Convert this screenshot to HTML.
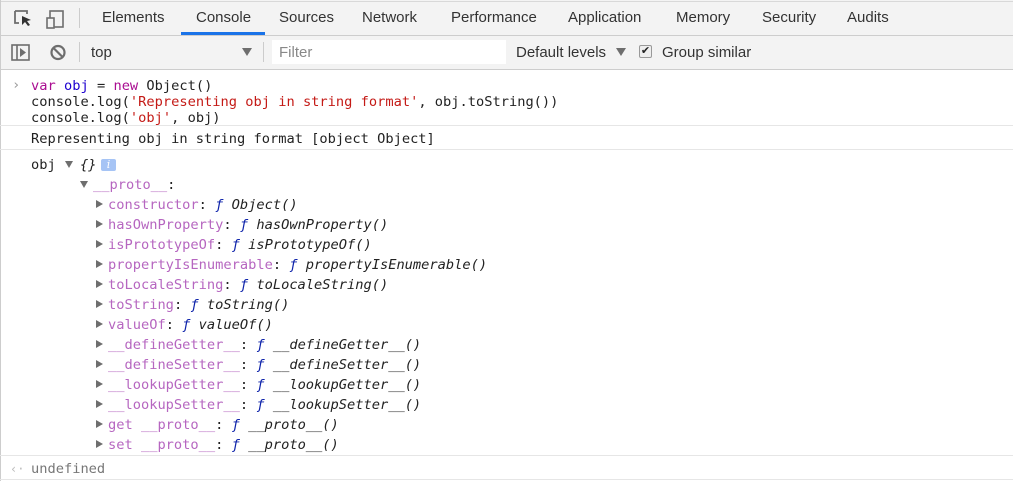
<!DOCTYPE html>
<html><head><meta charset="utf-8"><style>
*{margin:0;padding:0;box-sizing:border-box}
body{width:1013px;height:481px;overflow:hidden;background:#fff;position:relative;font-family:"Liberation Sans","DejaVu Sans",sans-serif}
.a{position:absolute;white-space:pre}
.ui{font-size:15px;color:#333}
.m{font-family:"DejaVu Sans Mono","Liberation Mono",monospace;font-size:13.7px;color:#222;line-height:16px}
.k{color:#aa0d91}.v{color:#1c00cf}.s{color:#c41a16}.p{color:#b666c0}.f{color:#0d22aa;font-style:italic}.i{font-style:italic;color:#222}
.tri{position:absolute;width:0;height:0;border-left:7px solid #6e6e6e;border-top:4px solid transparent;border-bottom:4px solid transparent}
.trd{position:absolute;width:0;height:0;border-top:7px solid #6e6e6e;border-left:4px solid transparent;border-right:4px solid transparent}
.hl{position:absolute;left:0;width:1013px;height:1px;background:#e6e6e6}
</style></head><body>
<div class="a" style="left:0;top:0;width:1013px;height:69px;background:#f3f3f3"></div>
<div class="hl" style="top:1px;background:#d8d8d8"></div>
<div class="hl" style="top:35px;background:#cdcdcd"></div>
<div class="hl" style="top:69px;background:#cdcdcd"></div>
<div class="a" style="left:0;top:0;width:1px;height:481px;background:#cdcdcd"></div>
<svg class="a" style="left:12px;top:8px" width="60" height="22"><path d="M3 3h12v3M3 3v12h4" fill="none" stroke="#6e6e6e" stroke-width="1.8"/><path d="M10 8l9 4-4 1 3 4-2 1-3-4-3 3z" fill="#333"/><rect x="38" y="3" width="13" height="16" fill="none" stroke="#6e6e6e" stroke-width="1.6"/><rect x="35" y="10" width="7" height="10" fill="#f3f3f3" stroke="#6e6e6e" stroke-width="1.6"/></svg>
<div class="a" style="left:79px;top:8px;width:1px;height:20px;background:#ccc"></div>
<div class="a ui" style="left:102px;top:9px">Elements</div>
<div class="a ui" style="left:196px;top:9px">Console</div>
<div class="a" style="left:181px;top:32px;width:84px;height:3px;background:#1a73e8"></div>
<div class="a ui" style="left:279px;top:9px">Sources</div>
<div class="a ui" style="left:362px;top:9px">Network</div>
<div class="a ui" style="left:451px;top:9px">Performance</div>
<div class="a ui" style="left:568px;top:9px">Application</div>
<div class="a ui" style="left:676px;top:9px">Memory</div>
<div class="a ui" style="left:762px;top:9px">Security</div>
<div class="a ui" style="left:847px;top:9px">Audits</div>
<svg class="a" style="left:10px;top:42px" width="60" height="22"><rect x="2" y="3" width="17" height="15" fill="none" stroke="#6e6e6e" stroke-width="1.6"/><line x1="7" y1="3" x2="7" y2="18" stroke="#6e6e6e" stroke-width="1.6"/><path d="M10 6l6 4.5-6 4.5z" fill="#6e6e6e"/><circle cx="48" cy="10.5" r="6.5" fill="none" stroke="#6e6e6e" stroke-width="2.2"/><line x1="43.5" y1="6" x2="52.5" y2="15" stroke="#6e6e6e" stroke-width="2.2"/></svg>
<div class="a" style="left:79px;top:42px;width:1px;height:20px;background:#ccc"></div>
<div class="a ui" style="left:91px;top:44px">top</div>
<div class="trd" style="left:242px;top:48px;border-top-width:8px;border-left-width:5px;border-right-width:5px"></div>
<div class="a" style="left:263px;top:42px;width:1px;height:20px;background:#ccc"></div>
<div class="a" style="left:272px;top:40px;width:234px;height:24px;background:#fff"></div>
<div class="a ui" style="left:279px;top:44px;color:#888">Filter</div>
<div class="a ui" style="left:516px;top:44px">Default levels</div>
<div class="trd" style="left:616px;top:48px;border-top-width:8px;border-left-width:5px;border-right-width:5px"></div>
<div class="a" style="left:639px;top:45px;width:13px;height:13px;border:1px solid #999;border-radius:2px;background:#eee;font-size:11px;line-height:11px;text-align:center;color:#222">✔</div>
<div class="a ui" style="left:662px;top:44px">Group similar</div>
<div class="a m" style="left:12px;top:77px;color:#999">›</div>
<div class="a m" style="left:31px;top:78px"><span class="k">var</span> <span class="v">obj</span> = <span class="k">new</span> Object()
console.log(<span class="s">'Representing obj in string format'</span>, obj.toString())
console.log(<span class="s">'obj'</span>, obj)</div>
<div class="hl" style="top:125px"></div>
<div class="a m" style="left:31px;top:131px">Representing obj in string format [object Object]</div>
<div class="hl" style="top:149px"></div>
<div class="a m" style="left:31px;top:157px">obj</div>
<div class="trd" style="left:65px;top:161px"></div>
<div class="a m i" style="left:80px;top:157px">{}</div>
<div class="a" style="left:101px;top:159px;width:15px;height:12px;background:#a6c4f5;border-radius:2px;color:#fff;font:italic 11px/12px 'DejaVu Serif',serif;text-align:center">i</div>
<div class="trd" style="left:80px;top:181px"></div>
<div class="a m" style="left:93px;top:177px"><span class="p">__proto__</span>:</div>
<div class="tri" style="left:96px;top:200px"></div><div class="a m" style="left:108px;top:197px"><span class="p">constructor</span>: <span class="f">ƒ</span> <span class="i">Object()</span></div>
<div class="tri" style="left:96px;top:220px"></div><div class="a m" style="left:108px;top:217px"><span class="p">hasOwnProperty</span>: <span class="f">ƒ</span> <span class="i">hasOwnProperty()</span></div>
<div class="tri" style="left:96px;top:240px"></div><div class="a m" style="left:108px;top:237px"><span class="p">isPrototypeOf</span>: <span class="f">ƒ</span> <span class="i">isPrototypeOf()</span></div>
<div class="tri" style="left:96px;top:260px"></div><div class="a m" style="left:108px;top:257px"><span class="p">propertyIsEnumerable</span>: <span class="f">ƒ</span> <span class="i">propertyIsEnumerable()</span></div>
<div class="tri" style="left:96px;top:280px"></div><div class="a m" style="left:108px;top:277px"><span class="p">toLocaleString</span>: <span class="f">ƒ</span> <span class="i">toLocaleString()</span></div>
<div class="tri" style="left:96px;top:300px"></div><div class="a m" style="left:108px;top:297px"><span class="p">toString</span>: <span class="f">ƒ</span> <span class="i">toString()</span></div>
<div class="tri" style="left:96px;top:320px"></div><div class="a m" style="left:108px;top:317px"><span class="p">valueOf</span>: <span class="f">ƒ</span> <span class="i">valueOf()</span></div>
<div class="tri" style="left:96px;top:340px"></div><div class="a m" style="left:108px;top:337px"><span class="p">__defineGetter__</span>: <span class="f">ƒ</span> <span class="i">__defineGetter__()</span></div>
<div class="tri" style="left:96px;top:360px"></div><div class="a m" style="left:108px;top:357px"><span class="p">__defineSetter__</span>: <span class="f">ƒ</span> <span class="i">__defineSetter__()</span></div>
<div class="tri" style="left:96px;top:380px"></div><div class="a m" style="left:108px;top:377px"><span class="p">__lookupGetter__</span>: <span class="f">ƒ</span> <span class="i">__lookupGetter__()</span></div>
<div class="tri" style="left:96px;top:400px"></div><div class="a m" style="left:108px;top:397px"><span class="p">__lookupSetter__</span>: <span class="f">ƒ</span> <span class="i">__lookupSetter__()</span></div>
<div class="tri" style="left:96px;top:420px"></div><div class="a m" style="left:108px;top:417px"><span class="p">get __proto__</span>: <span class="f">ƒ</span> <span class="i">__proto__()</span></div>
<div class="tri" style="left:96px;top:440px"></div><div class="a m" style="left:108px;top:437px"><span class="p">set __proto__</span>: <span class="f">ƒ</span> <span class="i">__proto__()</span></div>
<div class="hl" style="top:455px"></div>
<div class="a m" style="left:10px;top:461px;color:#bbb;font-size:12px">‹·</div>
<div class="a m" style="left:31px;top:461px;color:#777">undefined</div>
<div class="hl" style="top:479px"></div>
</body></html>
